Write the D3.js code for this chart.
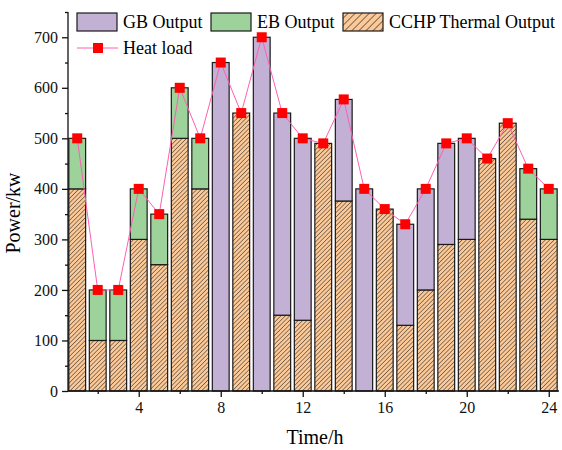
<!DOCTYPE html>
<html>
<head>
<meta charset="utf-8">
<script src="https://cdn.jsdelivr.net/npm/d3@7"></script>
<style>
  body { margin: 0; background: #fff; }
  text { font-family: "Liberation Serif", "Times New Roman", serif; }
</style>
</head>
<body>
<div id="chart"></div>
<script>
// hourly values
const hours = d3.range(1, 25);
const cchp = [400, 100, 100, 300, 250, 500, 400, 0, 550, 0, 150, 140, 490, 376, 0, 360, 130, 200, 290, 300, 460, 530, 340, 300];
const eb   = [100, 100, 100, 100, 100, 100, 100, 0, 0, 0, 0, 0, 0, 0, 0, 0, 0, 0, 0, 0, 0, 0, 100, 100];
const gb   = [0, 0, 0, 0, 0, 0, 0, 650, 0, 700, 400, 360, 0, 201, 400, 0, 200, 200, 200, 200, 0, 0, 0, 0];
const load = [500, 200, 200, 400, 350, 600, 500, 650, 550, 700, 550, 500, 490, 577, 400, 360, 330, 400, 490, 500, 460, 530, 440, 400];
const xTicks = [4, 8, 12, 16, 20, 24];

const W = 562, H = 450;
const m = { left: 68, right: 3, top: 12, bottom: 59 };

const svg = d3.select("#chart").append("svg")
  .attr("width", W).attr("height", H);

// hatch for CCHP (dense one for bars, wider one for the legend swatch)
const defs = svg.append("defs");
function hatch(id, step, sw) {
  const p = defs.append("pattern")
    .attr("id", id).attr("patternUnits", "userSpaceOnUse")
    .attr("width", step).attr("height", step)
    .attr("patternTransform", "rotate(45)");
  p.append("rect").attr("width", step).attr("height", step).attr("fill", "#fcc998");
  p.append("line").attr("x1", 0).attr("y1", 0).attr("x2", 0).attr("y2", step)
    .attr("stroke", "#111").attr("stroke-width", sw);
}
hatch("hatch", 3.1, 0.9);
hatch("hatchLeg", 5, 1.1);

const x = d3.scaleLinear().domain([0.55, 24.5]).range([m.left, W - m.right]);
const y = d3.scaleLinear().domain([0, 750]).range([H - m.bottom, m.top]);
const bw = x(0.41) - x(0);

const rows = hours.map((h, i) => ({ h, cchp: cchp[i], eb: eb[i], gb: gb[i] }));
const stack = d3.stack().keys(["cchp", "eb", "gb"])(rows);
const fills = { cchp: "url(#hatch)", eb: "#9dd29b", gb: "#c3b0d5" };

const g = svg.append("g");
stack.forEach(layer => {
  g.append("g").selectAll("rect")
    .data(layer.filter(d => d[1] - d[0] > 0))
    .enter().append("rect")
    .attr("x", d => x(d.data.h) - bw)
    .attr("width", 2 * bw)
    .attr("y", d => y(d[1]))
    .attr("height", d => y(d[0]) - y(d[1]))
    .attr("fill", fills[layer.key])
    .attr("stroke", "#1a1a1a")
    .attr("stroke-width", 1.2);
});

// heat load line
const line = d3.line().x((d, i) => x(hours[i])).y(d => y(d));
svg.append("path").datum(load)
  .attr("d", line).attr("fill", "none")
  .attr("stroke", "#ff5fb0").attr("stroke-width", 1);
svg.append("g").selectAll("rect").data(load).enter().append("rect")
  .attr("x", (d, i) => x(hours[i]) - 5)
  .attr("y", d => y(d) - 5)
  .attr("width", 10).attr("height", 10)
  .attr("fill", "#ff0000");

// axes
const yAxis = svg.append("g").attr("transform", `translate(${m.left},0)`)
  .call(d3.axisLeft(y).tickValues(d3.range(0, 701, 100)).tickSize(6).tickPadding(4));
svg.append("g").attr("transform", `translate(${m.left},0)`)
  .call(d3.axisLeft(y).tickValues(d3.range(50, 751, 100)).tickSize(3).tickFormat(""))
  .select(".domain").remove();
const xAxis = svg.append("g").attr("transform", `translate(0,${H - m.bottom})`)
  .call(d3.axisBottom(x).tickValues(xTicks).tickSize(6).tickPadding(5));
svg.append("g").attr("transform", `translate(0,${H - m.bottom})`)
  .call(d3.axisBottom(x).tickValues(d3.range(2, 25, 4)).tickSize(3).tickFormat(""))
  .select(".domain").remove();
svg.selectAll(".tick text").attr("font-size", 16).attr("fill", "#111")
  .style("font-family", "Liberation Serif");
svg.selectAll(".domain, .tick line").attr("stroke", "#111").attr("stroke-width", 1.3);
xAxis.select(".domain").attr("d", `M${m.left},0H${W - m.right}`);
yAxis.select(".domain").attr("d", `M0,${H - m.bottom}V${m.top}`);

svg.append("text").attr("x", 315).attr("y", 444).attr("text-anchor", "middle")
  .attr("font-size", 20).text("Time/h");
svg.append("text").attr("transform", "translate(20,213) rotate(-90)")
  .attr("text-anchor", "middle").attr("font-size", 20).text("Power/kw");

// legend
const leg = svg.append("g");
const items = [
  { label: "GB Output", fill: fills.gb, x: 77 },
  { label: "EB Output", fill: fills.eb, x: 211 },
  { label: "CCHP Thermal Output", fill: "url(#hatchLeg)", x: 343 }
];
items.forEach(it => {
  leg.append("rect").attr("x", it.x).attr("y", 13).attr("width", 40).attr("height", 18)
    .attr("fill", it.fill).attr("stroke", "#1a1a1a").attr("stroke-width", 1.2);
  leg.append("text").attr("x", it.x + 46).attr("y", 28).attr("font-size", 18).text(it.label);
});
leg.append("line").attr("x1", 77).attr("x2", 118).attr("y1", 48).attr("y2", 48)
  .attr("stroke", "#ff5fb0").attr("stroke-width", 1);
leg.append("rect").attr("x", 93).attr("y", 43).attr("width", 10).attr("height", 10).attr("fill", "#ff0000");
leg.append("text").attr("x", 123).attr("y", 54).attr("font-size", 18).text("Heat load");
</script>
</body>
</html>
